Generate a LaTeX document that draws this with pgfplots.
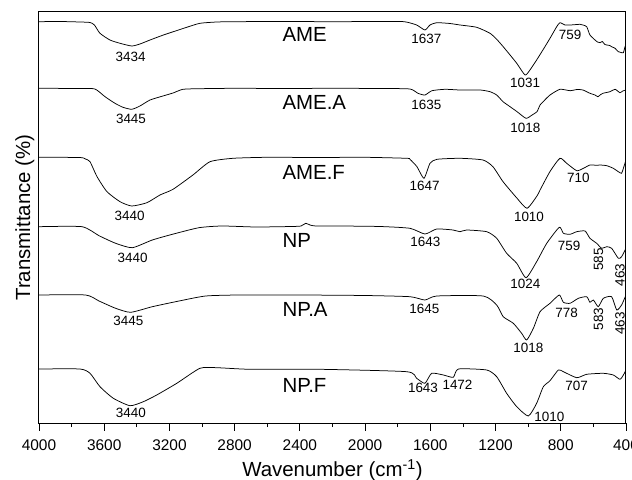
\documentclass[border=0pt]{standalone}
\usepackage{pgfplots}
\pgfplotsset{compat=1.18}
\usepackage{fontspec}
\setmainfont{Liberation Sans}
\newcommand{\pk}{\fontsize{13.5}{16}\selectfont}
\newcommand{\sm}{\fontsize{20.5}{24}\selectfont}
\pgfplotsset{spec/.style={black, line width=0.75bp, no markers, smooth, tension=0.35}}
\begin{document}
\begin{tikzpicture}
\begin{axis}[
  scale only axis, width=587bp, height=411bp,
  x dir=reverse, xmin=400, xmax=4000, ymin=0, ymax=411,
  xtick={400,800,...,4000}, minor x tick num=1,
  ytick=\empty, minor ytick={68.5,137,205.5,274,342.5},
  xtick align=outside, ytick align=inside,
  xtick pos=left, ytick pos=both,
  major tick length=7.5bp, minor tick length=4bp,
  axis line style={line width=1bp}, tick style={line width=0.8bp, black},
  /pgf/number format/assume math mode=true,
  /pgf/number format/1000 sep={},
  ticklabel style={font=\fontsize{15.5}{18}\selectfont},
  xticklabel style={yshift=-6bp},
  xlabel={Wavenumber (cm\textsuperscript{-1})},
  ylabel={Transmittance (\%)},
  label style={font=\fontsize{20.5}{24}\selectfont},
  xlabel style={at={(axis description cs:0.5,-0.131)}, anchor=base},
  ylabel style={at={(axis description cs:-0.024,0.5)}, anchor=center},
]
% AME
\addplot[spec] coordinates {(4000,401.3) (3870,401.5) (3750,401) (3687,400.5) (3660,398) (3626,389.7) (3565,383) (3503,379.7) (3431,377) (3381,379) (3319,383) (3237,388) (3176,391.3) (3094,395.7) (3013,399.7) (2910,401) (2810,401.3) (2500,401.5) (2200,401.3) (1900,401.5) (1760,401.3) (1684,398) (1633,393) (1602,398) (1561,400.3) (1480,399.5) (1418,398) (1316,395.7) (1234,389.7) (1193,383.7) (1153,376.3) (1111,368) (1070,359.7) (1019,348) (989,353) (948,363) (907,373.7) (866,384.7) (825,396.3) (805,400.3) (774,398) (740,398) (682,398.7) (664,398) (641,396.3) (621,388) (590,383) (575,381) (559,380.3) (545,381.5) (530,378.5) (518,378) (500,377.5) (485,376) (467,374.7) (447,371.3) (430,370.5) (416,370.3) (406,376.3) (400,378)};
% AME.A
\addplot[spec] coordinates {(4000,334.7) (3750,334.5) (3657,334) (3595,326.3) (3534,319.7) (3485,315.7) (3431,313.7) (3381,317) (3319,323) (3240,327) (3178,330) (3117,333.7) (3013,334.3) (2800,334.7) (2500,334.5) (2200,334.7) (1900,334.5) (1725,334) (1676,329.7) (1633,328) (1590,332.3) (1510,333.7) (1418,333) (1295,333) (1234,331.3) (1193,328) (1154,321.3) (1111,316.3) (1068,311.3) (1013,304.7) (976,308) (946,311.3) (927,318) (907,321.5) (866,328) (805,333.7) (743,332.3) (700,333.5) (664,333) (621,329.7) (590,328) (572,326.3) (555,328.5) (541,329.7) (520,330.5) (498,331.3) (467,333.7) (437,330.3) (420,332) (400,333)};
% AME.F
\addplot[spec] coordinates {(4000,265.7) (3750,265.5) (3715,264) (3687,261.3) (3644,246.3) (3583,231.3) (3503,221.3) (3431,217) (3338,220.3) (3258,228) (3178,233.7) (3056,248) (2951,261.3) (2810,264.7) (2602,265.7) (2300,265.5) (2000,265.7) (1745,264.7) (1725,263.7) (1682,256.3) (1639,244.7) (1602,259.7) (1559,263.7) (1418,264.7) (1277,263) (1216,256.3) (1154,241.3) (1068,224.7) (1007,214.7) (946,227) (927,233) (866,251.5) (805,264.7) (764,259.7) (702,252.3) (661,254.7) (621,258) (580,257.7) (559,258) (518,257.3) (478,254.7) (447,251.3) (427,249.7) (416,254.7) (400,263)};
% NP
\addplot[spec] coordinates {(4000,196.3) (3736,196.3) (3632,187.3) (3530,179.7) (3428,175.3) (3305,183) (3182,188.7) (3019,195.3) (2878,197) (2671,196) (2450,196.5) (2393,197) (2364,199.7) (2338,198) (2303,197) (2160,197) (1909,196.5) (1725,194.7) (1633,189) (1561,194) (1461,193) (1418,191.3) (1377,193) (1254,191.3) (1193,184.7) (1132,169.7) (1070,159.7) (1013,145.3) (948,161.3) (886,179.7) (809,195.7) (784,189.7) (743,188.7) (702,191.3) (651,192) (621,184.7) (580,179.7) (549,174.7) (518,176.3) (488,174.7) (447,164.7) (427,166.3) (400,174.7)};
% NP.A
\addplot[spec] coordinates {(4000,128) (3714,128) (3632,122) (3530,114.7) (3438,110.7) (3305,116.3) (3141,122) (2978,127) (2773,128) (2400,128) (2000,127.5) (1725,126.3) (1633,123) (1561,127) (1275,127) (1193,118) (1153,106.3) (1091,99.7) (1040,89.7) (1009,83) (968,94.7) (927,111.3) (866,119.7) (809,128) (784,120.7) (743,119.7) (692,124.7) (641,126.3) (621,120.7) (600,123) (570,116.3) (539,124.7) (488,126.3) (457,113) (427,118) (400,128)};
% NP.F
\addplot[spec] coordinates {(4000,54) (3749,54) (3687,49.7) (3626,36.3) (3544,24.7) (3442,17.3) (3360,21.3) (3278,28) (3155,39.7) (3013,54.7) (2910,55.3) (2706,53.7) (2277,53.7) (1745,51.3) (1684,44.7) (1633,39.7) (1592,49.7) (1520,48) (1459,45.7) (1428,54) (1254,53) (1193,46.3) (1132,29.7) (1070,16.3) (999,7) (948,19.7) (907,36.3) (866,42.3) (815,53) (784,51.3) (702,45.3) (641,48.7) (539,49.7) (478,48) (437,43.7) (416,48) (400,53)};
% sample labels
\node[anchor=base west,font=\sm] at (axis cs:2528,381) {AME};
\node[anchor=base west,font=\sm] at (axis cs:2528,313) {AME.A};
\node[anchor=base west,font=\sm] at (axis cs:2528,243) {AME.F};
\node[anchor=base west,font=\sm] at (axis cs:2528,175) {NP};
\node[anchor=base west,font=\sm] at (axis cs:2528,106) {NP.A};
\node[anchor=base west,font=\sm] at (axis cs:2528,31) {NP.F};
% peak labels
\node[font=\pk] at (axis cs:3437.6,366.3) {3434};
\node[font=\pk] at (axis cs:1624.7,384.3) {1637};
\node[font=\pk] at (axis cs:1019,340.2) {1031};
\node[font=\pk] at (axis cs:743,388.3) {759};
\node[font=\pk] at (axis cs:3435.8,303.8) {3445};
\node[font=\pk] at (axis cs:1624.7,318.5) {1635};
\node[font=\pk] at (axis cs:1017.6,295.5) {1018};
\node[font=\pk] at (axis cs:3443.8,206.7) {3440};
\node[font=\pk] at (axis cs:1634.5,237.2) {1647};
\node[font=\pk] at (axis cs:994.9,205.8) {1010};
\node[font=\pk] at (axis cs:692.5,245.5) {710};
\node[font=\pk] at (axis cs:3425.3,164.7) {3440};
\node[font=\pk] at (axis cs:1630.8,180.8) {1643};
\node[font=\pk] at (axis cs:1017.6,139) {1024};
\node[font=\pk] at (axis cs:748.3,177.5) {759};
\node[font=\pk,rotate=90] at (axis cs:568.6,163.5) {585};
\node[font=\pk,rotate=90] at (axis cs:436.7,148) {463};
\node[font=\pk] at (axis cs:3452.3,102.2) {3445};
\node[font=\pk] at (axis cs:1636.9,114.2) {1645};
\node[font=\pk] at (axis cs:999.2,75.5) {1018};
\node[font=\pk] at (axis cs:763.6,110.3) {778};
\node[font=\pk,rotate=90] at (axis cs:568.6,103.8) {583};
\node[font=\pk,rotate=90] at (axis cs:436.7,99.7) {463};
\node[font=\pk] at (axis cs:3437,10.5) {3440};
\node[font=\pk] at (axis cs:1645,35.5) {1643};
\node[font=\pk] at (axis cs:1433.4,38) {1472};
\node[font=\pk] at (axis cs:870.4,5.7) {1010};
\node[font=\pk] at (axis cs:702.3,36.8) {707};
\end{axis}
\pgfresetboundingbox
\path[use as bounding box] ([xshift=-39bp,yshift=-57bp]current axis.south west) rectangle ([xshift=6bp,yshift=12bp]current axis.north east);
\end{tikzpicture}
\end{document}
